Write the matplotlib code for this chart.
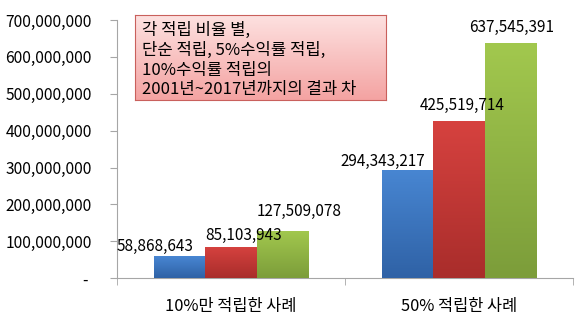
import numpy as np
import matplotlib
matplotlib.use("Agg")
import matplotlib.pyplot as plt
from matplotlib.colors import LinearSegmentedColormap
from matplotlib.ticker import FuncFormatter

plt.rcParams['font.family'] = ['Noto Sans CJK KR', 'DejaVu Sans']

# --- données ---
categories = ["10%만 적립한 사례", "50% 적립한 사례"]
simple = [58868643, 294343217]
rate5 = [85103943, 425519714]
rate10 = [127509078, 637545391]
series = [simple, rate5, rate10]
box_text = "각 적립 비율 별,\n단순 적립, 5%수익률 적립,\n10%수익률 적립의\n2001년~2017년까지의 결과 차"

# couleurs (haut, bas) pour le dégradé
colors = [("#4886d2", "#2f62a6"), ("#d6423f", "#a92d2b"), ("#a2c84e", "#7c9d3a")]
# décalages des étiquettes (points), série x catégorie
label_offsets = [[(-18, 1), (-18, 0)], [(9, 2), (2, 5)], [(12, 8), (1, 5)]]

fig = plt.figure(figsize=(5.8, 3.28), dpi=100)
ax = fig.add_axes([0.2017, 0.152, 0.7863, 0.787])

x = np.arange(len(categories))
w = 0.224
for i, vals in enumerate(series):
    bars = ax.bar(x + (i - 1) * w, vals, w, color=colors[i][0], zorder=2)
    cmap = LinearSegmentedColormap.from_list("g", [colors[i][1], colors[i][0]])
    for j, b in enumerate(bars):
        x0, y0 = b.get_x(), b.get_y()
        grad = np.linspace(0, 1, 100).reshape(-1, 1)
        im = ax.imshow(grad, extent=[x0, x0 + b.get_width(), y0, y0 + b.get_height()],
                       origin="lower", aspect="auto", cmap=cmap, zorder=3)
        im.set_clip_path(b)
        dx, dy = label_offsets[i][j]
        ax.annotate(f"{vals[j]:,}", (b.get_x() + b.get_width() / 2, b.get_height()),
                    xytext=(dx, dy), textcoords="offset points",
                    ha="center", va="bottom", fontsize=11, zorder=5)

ax.set_xlim(-0.5, 1.5)
ax.set_ylim(0, 700000000)
ax.set_yticks(np.arange(0, 700000001, 100000000))
ax.yaxis.set_major_formatter(FuncFormatter(lambda v, p: "- " if v == 0 else f"{int(v):,}"))
ax.set_xticks(x)
ax.set_xticklabels(categories, fontsize=11.8)
ax.set_xticks([-0.5, 0.5, 1.5], minor=True)
ax.tick_params(axis="x", which="major", length=0, pad=14)
ax.tick_params(axis="x", which="minor", length=5, color="#a6a6a6", direction="out")
ax.tick_params(axis="y", length=5, color="#a6a6a6", direction="out", labelsize=11.2, pad=13)

for s in ["top", "right"]:
    ax.spines[s].set_visible(False)
for s in ["left", "bottom"]:
    ax.spines[s].set_color("#a6a6a6")

# encadré rose en dégradé
bax = fig.add_axes([135 / 580, 1 - 100 / 328, 251 / 580, 85 / 328])
pink = LinearSegmentedColormap.from_list("p", ["#f4a3a2", "#fde2e1"])
bax.imshow(np.linspace(0, 1, 100).reshape(-1, 1), origin="lower", aspect="auto",
           cmap=pink, extent=[0, 1, 0, 1])
bax.set_xticks([])
bax.set_yticks([])
for s in bax.spines.values():
    s.set_color("#c9605c")
    s.set_linewidth(0.8)
bax.text(0.028, 0.47, box_text, transform=bax.transAxes, ha="left", va="center",
         fontsize=12, linespacing=1.22)

plt.savefig("out.png", dpi=100)
